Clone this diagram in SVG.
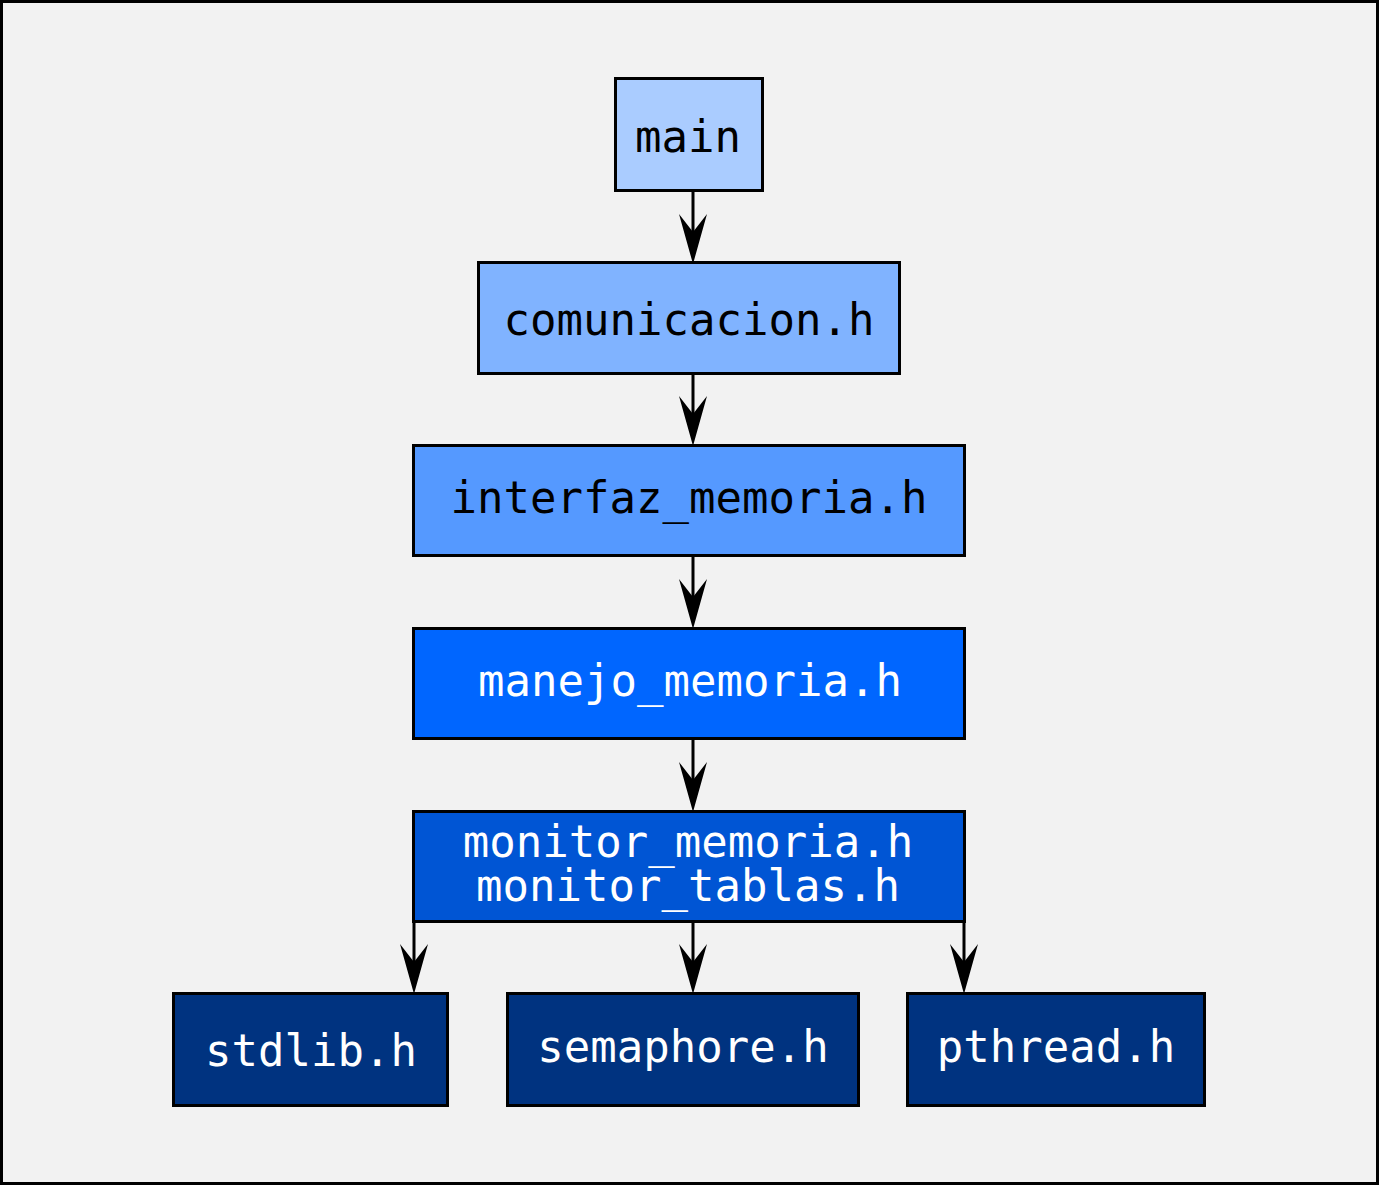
<svg xmlns="http://www.w3.org/2000/svg" width="1379" height="1185" viewBox="0 0 1379 1185">
<defs>
<style>
.box{stroke:#000;stroke-width:3}
.t{font-family:"DejaVu Sans Mono",monospace;font-size:44px;text-anchor:middle}
.dk{fill:#000}
.lt{fill:#fff}
.edge{stroke:#000;stroke-width:3;fill:none}
</style>
</defs>
<rect x="1.5" y="1.5" width="1376" height="1182" fill="#f2f2f2" stroke="#000" stroke-width="3"/>
<g id="connectors">
<path class="edge" d="M693,191 V232"/>
<path d="M693,264 L679,214 L693,232 L707,214 Z"/>
<path class="edge" d="M693,374 V414"/>
<path d="M693,446 L679,396 L693,414 L707,396 Z"/>
<path class="edge" d="M693,556 V597"/>
<path d="M693,629 L679,579 L693,597 L707,579 Z"/>
<path class="edge" d="M693,739 V780"/>
<path d="M693,812 L679,762 L693,780 L707,762 Z"/>
<path class="edge" d="M414,922 V962"/>
<path d="M414,994 L400,944 L414,962 L428,944 Z"/>
<path class="edge" d="M693,922 V962"/>
<path d="M693,994 L679,944 L693,962 L707,944 Z"/>
<path class="edge" d="M964,922 V962"/>
<path d="M964,994 L950,944 L964,962 L978,944 Z"/>
</g>
<g id="main">
<rect class="box" x="615.5" y="78.5" width="147" height="112" fill="#aaccff"/>
<text class="t dk" x="688" y="152">main</text>
</g>
<g id="comunicacion">
<rect class="box" x="478.5" y="262.5" width="421" height="111" fill="#80b3ff"/>
<text class="t dk" x="689" y="335">comunicacion.h</text>
</g>
<g id="interfaz_memoria">
<rect class="box" x="413.5" y="445.5" width="551" height="110" fill="#5599ff"/>
<text class="t dk" x="689" y="513">interfaz_memoria.h</text>
</g>
<g id="manejo_memoria">
<rect class="box" x="413.5" y="628.5" width="551" height="110" fill="#0066ff"/>
<text class="t lt" x="690" y="696">manejo_memoria.h</text>
</g>
<g id="monitor">
<rect class="box" x="413.5" y="811.5" width="551" height="110" fill="#0055d4"/>
<text class="t lt" x="688" y="857">monitor_memoria.h</text>
<text class="t lt" x="688" y="901">monitor_tablas.h</text>
</g>
<g id="stdlib">
<rect class="box" x="173.5" y="993.5" width="274" height="112" fill="#003380"/>
<text class="t lt" x="311" y="1066">stdlib.h</text>
</g>
<g id="semaphore">
<rect class="box" x="507.5" y="993.5" width="351" height="112" fill="#003380"/>
<text class="t lt" x="683" y="1062">semaphore.h</text>
</g>
<g id="pthread">
<rect class="box" x="907.5" y="993.5" width="297" height="112" fill="#003380"/>
<text class="t lt" x="1056" y="1062">pthread.h</text>
</g>
</svg>
